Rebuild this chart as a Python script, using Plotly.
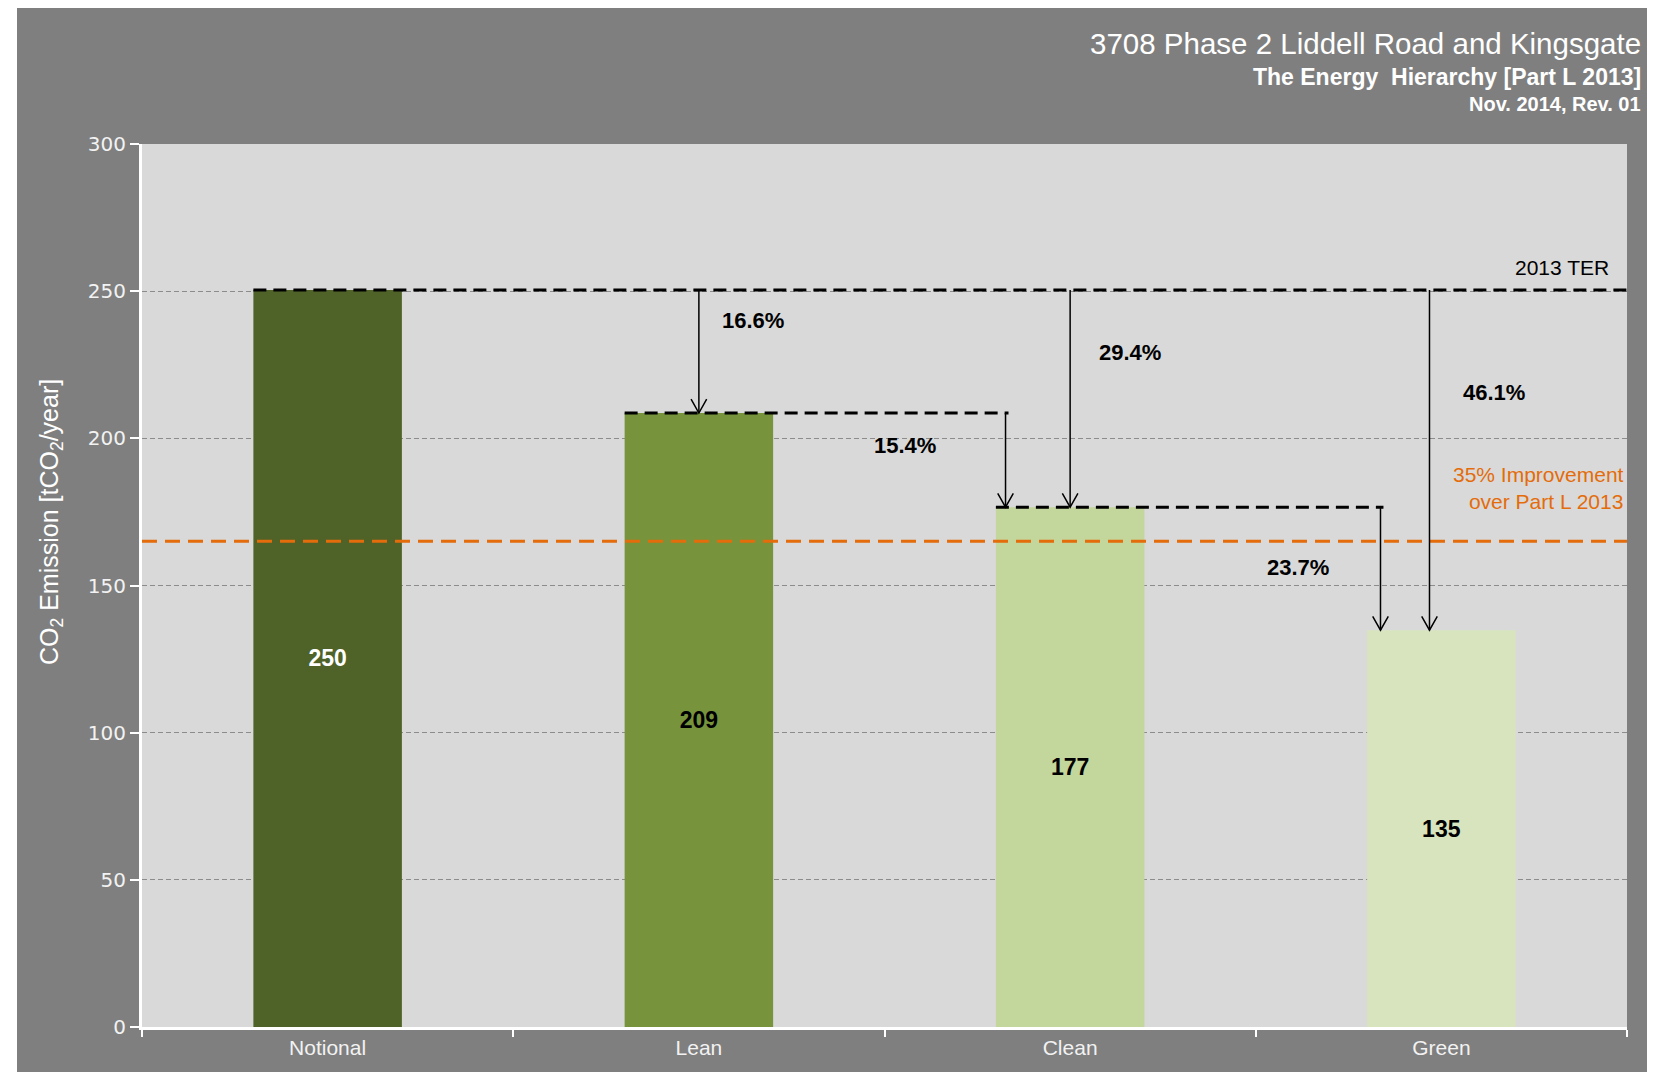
import plotly.graph_objects as go

# ---- data ----
categories = ["Notional", "Lean", "Clean", "Green"]
emissions = [250.4, 208.6, 176.6, 134.8]
bar_colors = ["#4f6228", "#77933c", "#c3d69b", "#d7e4bd"]
label_colors = ["#ffffff", "#000000", "#000000", "#000000"]
ter_reductions = ["16.6%", "29.4%", "46.1%"]      # Notional -> Lean / Clean / Green
step_reductions = ["15.4%", "23.7%"]              # Lean -> Clean, Clean -> Green
target_value = 165.0
target_label = "35% Improvement<br>over Part L 2013"
ter_label = "2013 TER"
y_ticks = [0, 50, 100, 150, 200, 250, 300]
title_lines = ["3708 Phase 2 Liddell Road and Kingsgate",
               "The Energy  Hierarchy [Part L 2013]",
               "Nov. 2014, Rev. 01"]

# page has an 8px body margin; figure is sized so that it fills the window
OFF = 8
W, H = 1655 - OFF, 1072 - OFF
ML, MR, MT, MB = 134, 28, 136, 45
PW, PH = W - ML - MR, H - MT - MB
FONT = "Liberation Sans, Arial, sans-serif"
WIDE = "DejaVu Sans, Liberation Sans, sans-serif"


def px_x(p):          # page pixel -> paper x
    return (p - OFF - ML) / PW


def px_y(p):          # page pixel -> paper y
    return (H - MB - (p - OFF)) / PH


BAR_W = 0.4
fig = go.Figure()
fig.add_trace(go.Bar(
    x=categories, y=emissions, width=BAR_W,
    marker=dict(color=bar_colors, line=dict(width=0)),
    text=[f"{v:.0f}" for v in emissions], texttemplate="%{text}",
    textposition="inside", insidetextanchor="middle", textangle=0,
    textfont=dict(family=FONT, size=23, color=label_colors, weight="bold"),
    hoverinfo="skip", showlegend=False,
))

shapes = []
annotations = []

# target line
shapes.append(dict(type="line", xref="x", yref="y", x0=-0.5, x1=3.5,
                   y0=target_value, y1=target_value,
                   line=dict(color="#e46c0a", width=3, dash="15px,8px")))

dash_blk = dict(color="#000000", width=3, dash="13px,7px")
ter = emissions[0]
# TER line
shapes.append(dict(type="line", xref="x", yref="y", x0=0 - BAR_W / 2, x1=3.5,
                   y0=ter, y1=ter, line=dash_blk))

AH_DX, AH_DY = 0.021, 4.7


def arrow(x, y0, y1):
    shapes.append(dict(type="line", xref="x", yref="y", x0=x, x1=x, y0=y0, y1=y1,
                       line=dict(color="#000000", width=1.5)))
    shapes.append(dict(type="path", xref="x", yref="y",
                       path=f"M {x - AH_DX},{y1 + AH_DY} L {x},{y1} L {x + AH_DX},{y1 + AH_DY}",
                       line=dict(color="#000000", width=1.5)))


# arrows from TER to Lean, Clean, Green
ter_arrow_x = [1, 2, 2.968]
for i, xa in enumerate(ter_arrow_x):
    arrow(xa, ter, emissions[i + 1])

# step lines + arrows
step_arrow_x = [1.826, 2.836]
for i, xa in enumerate(step_arrow_x):
    src = i + 1
    shapes.append(dict(type="line", xref="x", yref="y", x0=src - BAR_W / 2, x1=xa + 0.008,
                       y0=emissions[src], y1=emissions[src], line=dash_blk))
    arrow(xa, emissions[src], emissions[src + 1])

# percentage labels
pct_font = dict(family=FONT, size=22, color="#000000", weight="bold")
ter_pct_pos = [(1.146, 240.2), (2.161, 229.1), (3.142, 215.5)]
for t, (xx, yy) in zip(ter_reductions, ter_pct_pos):
    annotations.append(dict(x=xx, y=yy, xref="x", yref="y", text=t, showarrow=False,
                            font=pct_font))
step_pct_pos = [(1.555, 197.5), (2.613, 156.2)]
for t, (xx, yy) in zip(step_reductions, step_pct_pos):
    annotations.append(dict(x=xx, y=yy, xref="x", yref="y", text=t, showarrow=False,
                            font=pct_font))

annotations.append(dict(x=3.457, y=257.9, xref="x", yref="y", text=ter_label,
                        showarrow=False, xanchor="right",
                        font=dict(family=FONT, size=21, color="#000000", weight=500)))
annotations.append(dict(x=3.497, y=183.0, xref="x", yref="y", text=target_label,
                        showarrow=False, xanchor="right", align="right",
                        font=dict(family=FONT, size=21, color="#e46c0a", weight=500)))

# titles
title_specs = [(44, 29.5, "normal"), (77, 23, "bold"), (104, 20, "bold")]
for txt, (yp, sz, wt) in zip(title_lines, title_specs):
    annotations.append(dict(x=px_x(1643), y=px_y(yp), xref="paper", yref="paper",
                            text=txt, showarrow=False, xanchor="right", yanchor="middle",
                            font=dict(family=FONT, size=sz, color="#ffffff", weight=wt)))

# y axis title
annotations.append(dict(x=px_x(51), y=px_y(522), xref="paper", yref="paper",
                        text="CO<sub>2</sub> Emission [tCO<sub>2</sub>/year]",
                        textangle=-90, showarrow=False, xanchor="center", yanchor="middle",
                        font=dict(family=FONT, size=25, color="#ffffff")))

# white outer strip on the left (top strip comes from page margin)
shapes.append(dict(type="rect", xref="paper", yref="paper", layer="above",
                   x0=px_x(OFF), x1=px_x(17), y0=px_y(1072), y1=px_y(OFF),
                   fillcolor="#ffffff", line=dict(width=0)))

fig.update_layout(
    width=W, height=H,
    margin=dict(l=ML, r=MR, t=MT, b=MB, pad=0),
    paper_bgcolor="#7f7f7f", plot_bgcolor="#d9d9d9",
    shapes=shapes, annotations=annotations,
    xaxis=dict(type="category", categoryorder="array", categoryarray=categories,
               range=[-0.5, 3.5], showgrid=False, zeroline=False,
               showline=True, linecolor="#ffffff", linewidth=3,
               ticks="outside", tickson="boundaries", ticklen=7, tickcolor="#ffffff",
               tickwidth=2, tickfont=dict(family=FONT, size=21, color="#f2f2f2")),
    yaxis=dict(range=[0, 300], tickvals=y_ticks, showgrid=True, gridcolor="#8c8c8c",
               griddash="5px,3px", gridwidth=1, zeroline=False, showline=True,
               linecolor="#ffffff", linewidth=3, ticks="outside", ticklen=9,
               tickcolor="#ffffff", tickwidth=2,
               tickfont=dict(family=WIDE, size=20, color="#f2f2f2")),
)

fig.write_html("out.html")
